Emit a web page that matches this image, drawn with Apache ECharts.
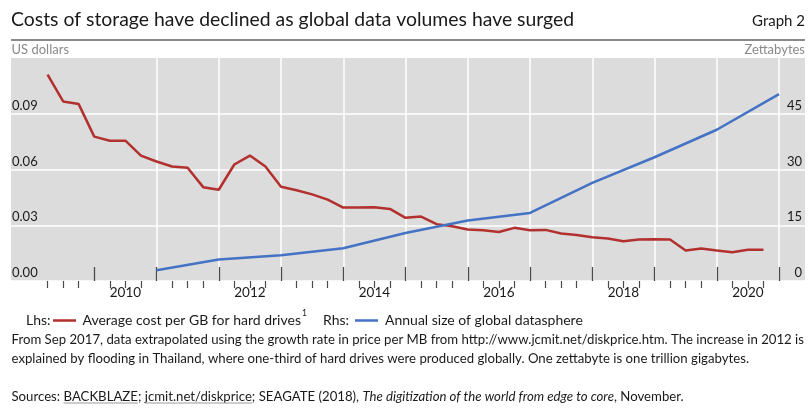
<!DOCTYPE html>
<html><head><meta charset="utf-8">
<script src="https://cdn.jsdelivr.net/npm/echarts@6/dist/echarts.min.js"></script>
<style>html,body{margin:0;padding:0;background:#fff}#c{width:809px;height:409px}</style>
</head><body><div id="c"></div>
<script>
// ---- data (quarter-end / year-end positioned) ----
const costQuarters = [
  '2009-Q1','2009-Q2','2009-Q3','2009-Q4',
  '2010-Q1','2010-Q2','2010-Q3','2010-Q4',
  '2011-Q1','2011-Q2','2011-Q3','2011-Q4',
  '2012-Q1','2012-Q2','2012-Q3','2012-Q4',
  '2013-Q1','2013-Q2','2013-Q3','2013-Q4',
  '2014-Q1','2014-Q2','2014-Q3','2014-Q4',
  '2015-Q1','2015-Q2','2015-Q3','2015-Q4',
  '2016-Q1','2016-Q2','2016-Q3','2016-Q4',
  '2017-Q1','2017-Q2','2017-Q3','2017-Q4',
  '2018-Q1','2018-Q2','2018-Q3','2018-Q4',
  '2019-Q1','2019-Q2','2019-Q3','2019-Q4',
  '2020-Q1','2020-Q2','2020-Q3'
];
const costPerGB = [
  0.1110, 0.0966, 0.0952, 0.0777,
  0.0755, 0.0755, 0.0675, 0.0643,
  0.0616, 0.0609, 0.0505, 0.0491,
  0.0627, 0.0675, 0.0616, 0.0507,
  0.0488, 0.0466, 0.0438, 0.0395,
  0.0395, 0.0397, 0.0388, 0.0340,
  0.0347, 0.0306, 0.0295, 0.0277,
  0.0273, 0.0264, 0.0286, 0.0273,
  0.0275, 0.0256, 0.0248, 0.0236,
  0.0229, 0.0214, 0.0223, 0.0225,
  0.0223, 0.0164, 0.0175, 0.0164,
  0.0155, 0.0168, 0.0168
];
const datasphereYears = [2010, 2011, 2012, 2013, 2014, 2015, 2016, 2017, 2018, 2019, 2020];
const datasphereZB = [2.9, 5.8, 6.9, 8.8, 12.9, 16.3, 18.3, 26.4, 33.3, 40.7, 50.3];
const yearLabels = [2010, 2012, 2014, 2016, 2018, 2020];
const leftTickLabels = ['0.00', '0.03', '0.06', '0.09'];
const rightTickLabels = ['0', '15', '30', '45'];

// ---- conversion helpers ----
function quarterEnd(q) { const p = q.split('-Q'); return +p[0] + (+p[1]) / 4; }
function yearEnd(y) { return y + 1; }

const costData = costQuarters.map((q, i) => [quarterEnd(q), costPerGB[i]]);
const sphereData = datasphereYears.map((y, i) => [yearEnd(y), datasphereZB[i]]);

const X_MIN = 2009, X_MAX = 2021;
const majorTickVals = [], minorTickVals = [];
for (let y = X_MIN + 1; y <= X_MAX; y++) majorTickVals.push(y);
for (let y = X_MIN; y < X_MAX; y++) { minorTickVals.push(y + 0.25, y + 0.5, y + 0.75); }

const FONT = 'Lato';
const TXT = '#1a1a1a';
const RED = '#b2302d', BLUE = '#4472c4';
const TICK = '#4a4a4a';

// text measuring for superscript / underline placement
const mctx = document.createElement('canvas').getContext('2d');
function tw(str, size, italic) { mctx.font = (italic ? 'italic ' : '') + size + 'px ' + FONT; return mctx.measureText(str).width; }

const LEG = 14, NOTE = 13.2;
const legText1 = 'Average cost per GB for hard drives';
const supX = 82.5 + tw(legText1, LEG) + 1;
const srcX = 11.5;
const bbStart = srcX + tw('Sources: ', NOTE);
const bbEnd = bbStart + tw('BACKBLAZE', NOTE);
const jcStart = bbEnd + tw('; ', NOTE);
const jcEnd = jcStart + tw('jcmit.net/diskprice', NOTE);

const chart = echarts.init(document.getElementById('c'), null, { renderer: 'canvas' });
chart.setOption({
  animation: false,
  textStyle: { fontFamily: FONT },
  grid: [
    { left: 11, right: 4, top: 58, bottom: 128, show: true, backgroundColor: '#dcdcdc', borderWidth: 0 },
    { left: 32, right: 30, top: 58, bottom: 128 }
  ],
  xAxis: [
    { gridIndex: 0, type: 'value', min: 0, max: 1, show: false },
    {
      gridIndex: 1, type: 'value', min: X_MIN, max: X_MAX, interval: 1,
      axisLine: { show: false },
      axisTick: { show: true, inside: true, length: 14, customValues: majorTickVals, lineStyle: { color: TICK, width: 1.3 } },
      axisLabel: { show: true, customValues: yearLabels.map(y => y + 0.5), formatter: v => String(Math.floor(v)),
        color: TXT, fontSize: 13.5, fontFamily: FONT, margin: 5 },
      splitLine: { show: true, showMinLine: false, lineStyle: { color: '#ffffff', width: 1.5 } }
    },
    {
      gridIndex: 1, type: 'value', min: X_MIN, max: X_MAX, interval: 0.25,
      axisLine: { show: false },
      axisTick: { show: true, inside: true, length: 7, customValues: minorTickVals, lineStyle: { color: TICK, width: 1.2 } },
      axisLabel: { show: false }, splitLine: { show: false }
    }
  ],
  yAxis: [
    {
      gridIndex: 0, type: 'value', position: 'left', min: 0, max: 0.12, interval: 0.03,
      axisLine: { show: false }, axisTick: { show: false },
      axisLabel: { inside: true, margin: 1, showMaxLabel: false, verticalAlign: 'bottom', lineHeight: 16,
        formatter: v => leftTickLabels[Math.round(v / 0.03)] || '', color: TXT, fontSize: 13, fontFamily: FONT },
      splitLine: { show: true, showMaxLine: false, lineStyle: { color: '#ffffff', width: 1.5 } }
    },
    {
      gridIndex: 0, type: 'value', position: 'right', min: 0, max: 60, interval: 15,
      axisLine: { show: false }, axisTick: { show: false },
      axisLabel: { inside: true, margin: 3, showMaxLabel: false, verticalAlign: 'bottom', lineHeight: 16,
        formatter: v => rightTickLabels[Math.round(v / 15)] || '', color: TXT, fontSize: 13, fontFamily: FONT },
      splitLine: { show: false }
    },
    { gridIndex: 1, type: 'value', min: 0, max: 0.12, show: false },
    { gridIndex: 1, type: 'value', min: 0, max: 60, show: false }
  ],
  series: [
    { name: 'Average cost per GB for hard drives', type: 'line', xAxisIndex: 1, yAxisIndex: 2,
      data: costData, showSymbol: false, lineStyle: { color: RED, width: 2.5 }, itemStyle: { color: RED } },
    { name: 'Annual size of global datasphere', type: 'line', xAxisIndex: 1, yAxisIndex: 3,
      data: sphereData, showSymbol: false, lineStyle: { color: BLUE, width: 2.5 }, itemStyle: { color: BLUE } }
  ],
  graphic: [
    { type: 'text', x: 11, y: 19.5, style: { text: 'Costs of storage have declined as global data volumes have surged',
      fontSize: 19.4, fontFamily: FONT, fill: TXT, align: 'left', verticalAlign: 'middle' } },
    { type: 'text', x: 805, y: 21.5, style: { text: 'Graph 2', fontSize: 15, fontFamily: FONT, fill: TXT, align: 'right', verticalAlign: 'middle' } },
    { type: 'line', shape: { x1: 11, y1: 40, x2: 805, y2: 40 }, style: { stroke: '#8a8a8a', lineWidth: 2 } },
    { type: 'text', x: 11.5, y: 49.5, style: { text: 'US dollars', fontSize: 13, fontFamily: FONT, fill: '#8a8a8a', align: 'left', verticalAlign: 'middle' } },
    { type: 'text', x: 805, y: 49.5, style: { text: 'Zettabytes', fontSize: 13, fontFamily: FONT, fill: '#8a8a8a', align: 'right', verticalAlign: 'middle' } },
    // legend
    { type: 'text', x: 26, y: 320.5, style: { text: 'Lhs:', fontSize: LEG, fontFamily: FONT, fill: TXT, align: 'left', verticalAlign: 'middle' } },
    { type: 'line', shape: { x1: 53, y1: 320.5, x2: 76, y2: 320.5 }, style: { stroke: RED, lineWidth: 2.5 } },
    { type: 'text', x: 82.5, y: 320.5, style: { text: legText1, fontSize: LEG, fontFamily: FONT, fill: TXT, align: 'left', verticalAlign: 'middle' } },
    { type: 'text', x: supX, y: 313.5, style: { text: '1', fontSize: 8.5, fontFamily: FONT, fill: TXT, align: 'left', verticalAlign: 'middle' } },
    { type: 'text', x: 323, y: 320.5, style: { text: 'Rhs:', fontSize: LEG, fontFamily: FONT, fill: TXT, align: 'left', verticalAlign: 'middle' } },
    { type: 'line', shape: { x1: 355, y1: 320.5, x2: 378, y2: 320.5 }, style: { stroke: BLUE, lineWidth: 2.5 } },
    { type: 'text', x: 385, y: 320.5, style: { text: 'Annual size of global datasphere', fontSize: LEG, fontFamily: FONT, fill: TXT, align: 'left', verticalAlign: 'middle' } },
    // notes
    { type: 'text', x: 11.5, y: 340, style: { text: 'From Sep 2017, data extrapolated using the growth rate in price per MB from http://www.jcmit.net/diskprice.htm. The increase in 2012 is',
      fontSize: NOTE, fontFamily: FONT, fill: TXT, align: 'left', verticalAlign: 'middle' } },
    { type: 'text', x: 11.5, y: 358.3, style: { text: 'explained by flooding in Thailand, where one-third of hard drives were produced globally. One zettabyte is one trillion gigabytes.',
      fontSize: NOTE, fontFamily: FONT, fill: TXT, align: 'left', verticalAlign: 'middle' } },
    { type: 'text', x: srcX, y: 396.7, style: {
      text: '{n|Sources: BACKBLAZE; jcmit.net/diskprice; SEAGATE (2018), }{i|The digitization of the world from edge to core}{n|, November.}',
      rich: { n: { fontSize: NOTE, fontFamily: FONT, fill: TXT }, i: { fontSize: NOTE, fontFamily: FONT, fontStyle: 'italic', fill: TXT } },
      fontSize: NOTE, fontFamily: FONT, fill: TXT, align: 'left', verticalAlign: 'middle' } },
    { type: 'line', shape: { x1: bbStart, y1: 403, x2: bbEnd, y2: 403 }, style: { stroke: '#9a9a9a', lineWidth: 1 } },
    { type: 'line', shape: { x1: jcStart, y1: 403, x2: jcEnd, y2: 403 }, style: { stroke: '#9a9a9a', lineWidth: 1 } }
  ]
});
</script></body></html>
